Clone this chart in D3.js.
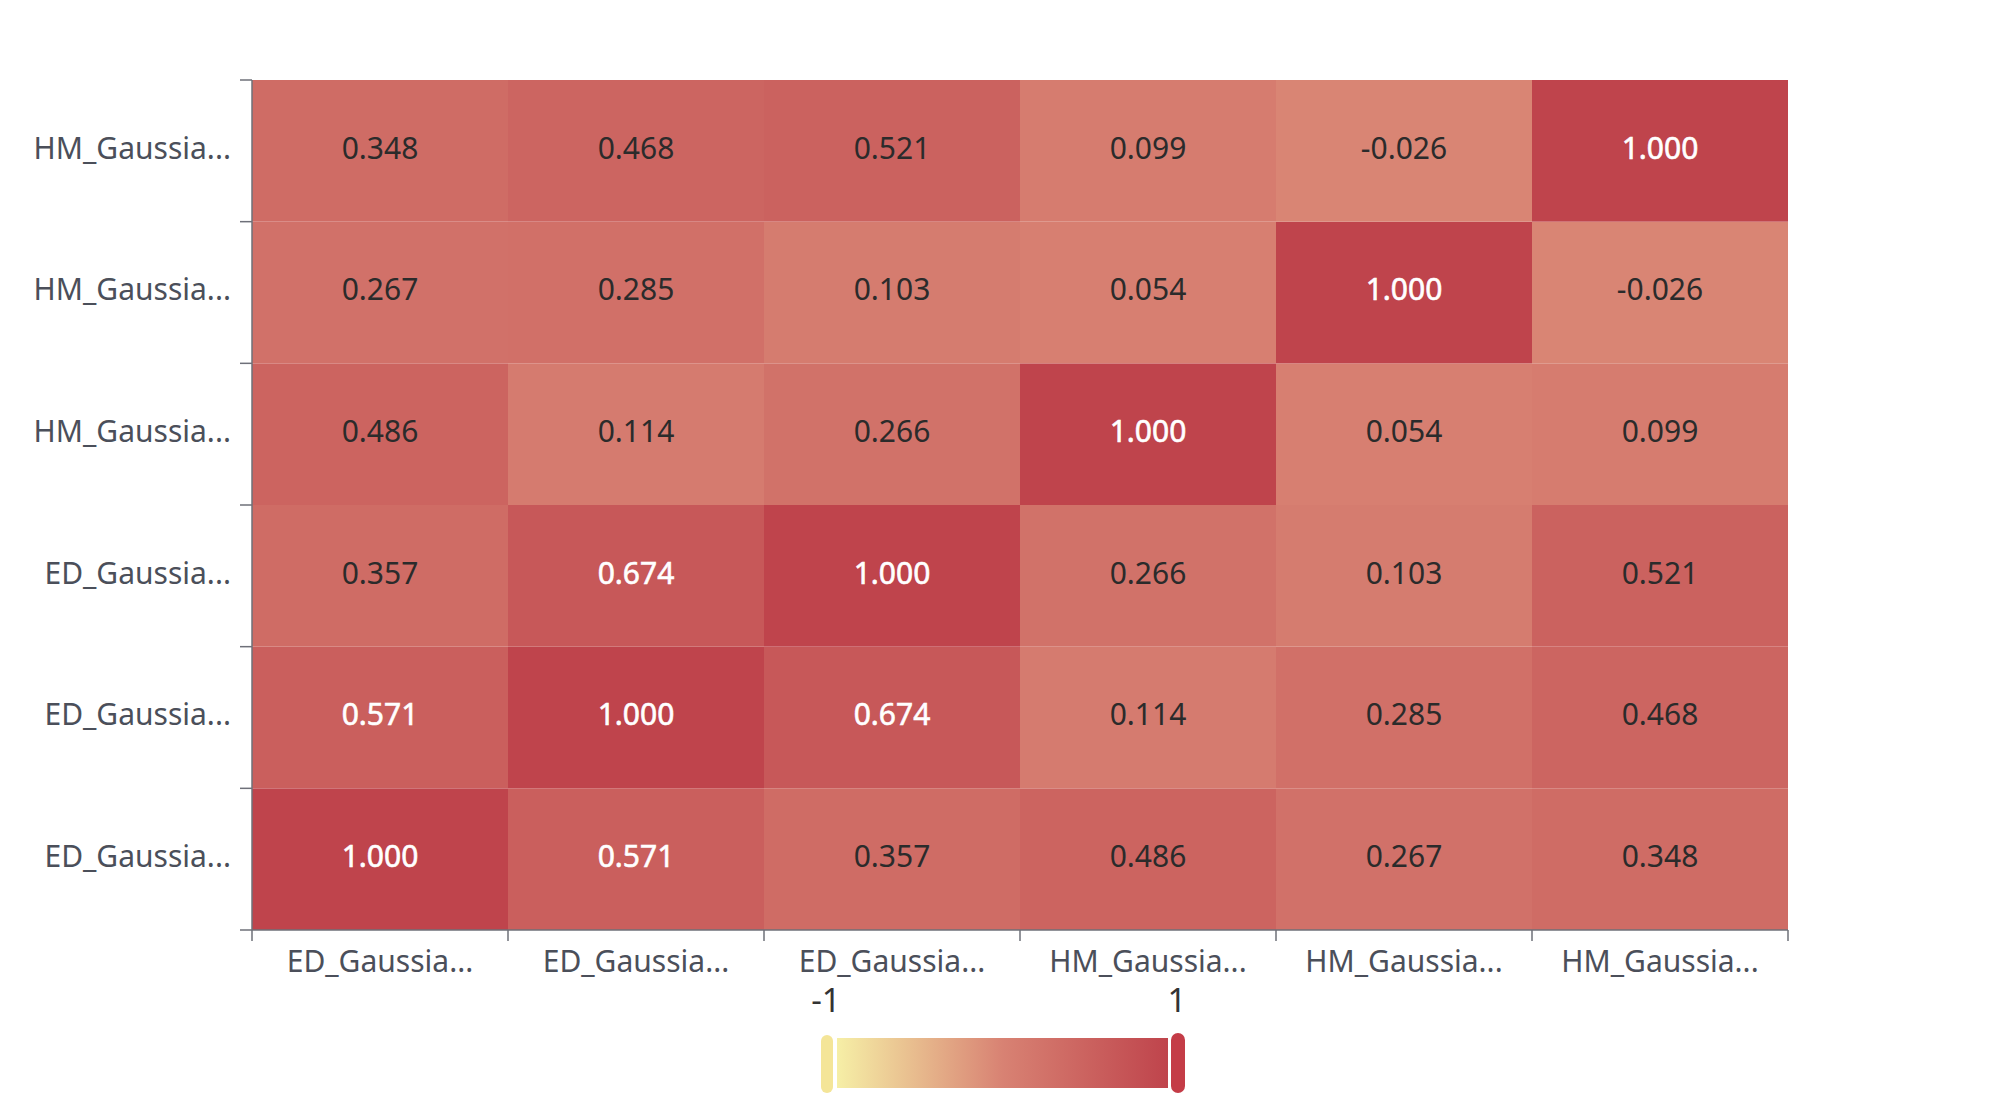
<!DOCTYPE html>
<html>
<head>
<meta charset="utf-8">
<script src="https://cdn.jsdelivr.net/npm/d3@7/dist/d3.min.js"></script>
<style>
html,body{margin:0;padding:0;background:#fff;}
svg{display:block;font-family:"Noto Sans","Open Sans",sans-serif;}
</style>
</head>
<body>
<svg id="chart" width="2000" height="1109"></svg>
<script>
// ---- data ----
const xCategories = ["ED_Gaussia...", "ED_Gaussia...", "ED_Gaussia...", "HM_Gaussia...", "HM_Gaussia...", "HM_Gaussia..."];
const yCategories = ["ED_Gaussia...", "ED_Gaussia...", "ED_Gaussia...", "HM_Gaussia...", "HM_Gaussia...", "HM_Gaussia..."]; // bottom to top
// values[row][col], row 0 = bottom row
const values = [
  [1.000, 0.571, 0.357, 0.486, 0.267, 0.348],
  [0.571, 1.000, 0.674, 0.114, 0.285, 0.468],
  [0.357, 0.674, 1.000, 0.266, 0.103, 0.521],
  [0.486, 0.114, 0.266, 1.000, 0.054, 0.099],
  [0.267, 0.285, 0.103, 0.054, 1.000, -0.026],
  [0.348, 0.468, 0.521, 0.099, -0.026, 1.000]
];
const colorDomain = [-1, 0, 1];
const colorRange = ["#f6efa6", "#d88273", "#bf444c"];
const legendTicks = ["-1", "1"];

// ---- layout ----
const svg = d3.select("#chart");
const grid = {left: 252, right: 1788, top: 80, bottom: 930};
const fontSize = 30;
const axisColor = "#6E7079";
const labelColor = "#4b4f5a";

const xIdx = d3.range(xCategories.length);
const yIdx = d3.range(yCategories.length);
const x = d3.scaleBand().domain(xIdx).range([grid.left, grid.right]);
const y = d3.scaleBand().domain(yIdx).range([grid.bottom, grid.top]);
const color = d3.scaleLinear().domain(colorDomain).range(colorRange).interpolate(d3.interpolateRgb);

const cells = [];
values.forEach((row, r) => row.forEach((v, c) => cells.push({r, c, v})));

// cells
svg.append("g").selectAll("rect").data(cells).join("rect")
  .attr("x", d => x(d.c))
  .attr("y", d => y(d.r))
  .attr("width", x.bandwidth())
  .attr("height", y.bandwidth())
  .attr("fill", d => color(d.v));

// cell labels
svg.append("g").selectAll("text").data(cells).join("text")
  .attr("x", d => x(d.c) + x.bandwidth() / 2)
  .attr("y", d => y(d.r) + y.bandwidth() / 2 - 3)
  .attr("dy", "0.36em")
  .attr("text-anchor", "middle")
  .attr("font-size", fontSize)
  .attr("fill", d => d.v > 0.55 ? "#ffffff" : "#2b2b2b")
  .attr("stroke", d => d.v > 0.55 ? "#ffffff" : "none")
  .attr("stroke-width", 0.6)
  .text(d => d3.format(".3f")(d.v).replace("−", "-"));

// axes
const axes = svg.append("g").attr("stroke", axisColor).attr("stroke-width", 1.5).attr("fill", "none");
axes.append("line").attr("x1", grid.left).attr("x2", grid.right).attr("y1", grid.bottom).attr("y2", grid.bottom);
axes.append("line").attr("x1", grid.left).attr("x2", grid.left).attr("y1", grid.top).attr("y2", grid.bottom);
const xBounds = xIdx.map(i => x(i)).concat([x(xIdx[xIdx.length - 1]) + x.bandwidth()]);
const yBounds = yIdx.map(i => y(i) + y.bandwidth()).concat([y(yIdx[yIdx.length - 1])]);
axes.selectAll(".xt").data(xBounds).join("line")
  .attr("x1", d => d).attr("x2", d => d).attr("y1", grid.bottom).attr("y2", grid.bottom + 11);
axes.selectAll(".yt").data(yBounds).join("line")
  .attr("y1", d => d).attr("y2", d => d).attr("x1", grid.left - 12).attr("x2", grid.left);

// axis labels
svg.append("g").selectAll("text").data(xIdx).join("text")
  .attr("x", d => x(d) + x.bandwidth() / 2)
  .attr("y", grid.bottom + 42)
  .attr("text-anchor", "middle")
  .attr("font-size", fontSize)
  .attr("fill", labelColor)
  .text(d => xCategories[d]);
svg.append("g").selectAll("text").data(yIdx).join("text")
  .attr("x", grid.left - 21)
  .attr("y", d => y(d) + y.bandwidth() / 2 - 3)
  .attr("dy", "0.36em")
  .attr("text-anchor", "end")
  .attr("font-size", fontSize)
  .attr("fill", labelColor)
  .text(d => yCategories[d]);

// visual map legend
const lg = {x0: 837, x1: 1168, y0: 1038, y1: 1088};
const defs = svg.append("defs");
const grad = defs.append("linearGradient").attr("id", "vm").attr("x1", "0%").attr("x2", "100%").attr("y1", "0%").attr("y2", "0%");
grad.selectAll("stop").data(colorDomain).join("stop")
  .attr("offset", d => ((d - colorDomain[0]) / (colorDomain[2] - colorDomain[0]) * 100) + "%")
  .attr("stop-color", d => color(d));
svg.append("rect").attr("x", lg.x0).attr("y", lg.y0).attr("width", lg.x1 - lg.x0).attr("height", lg.y1 - lg.y0)
  .attr("fill", "url(#vm)");
const lx = d3.scaleLinear().domain([-1, 1]).range([lg.x0, lg.x1]);
svg.append("rect").attr("x", lx(-1) - 16).attr("y", 1035).attr("width", 12).attr("height", 58).attr("rx", 6)
  .attr("fill", "#f4e598");
svg.append("rect").attr("x", lx(1) + 3).attr("y", 1033).attr("width", 14).attr("height", 60).attr("rx", 7)
  .attr("fill", "#c43c47");
svg.append("g").selectAll("text").data(legendTicks).join("text")
  .attr("x", d => +d < 0 ? lx(-1) - 11 : lx(1) + 9)
  .attr("y", 1012)
  .attr("text-anchor", "middle")
  .attr("font-size", 33)
  .attr("fill", "#333")
  .text(d => d);
</script>
</body>
</html>
